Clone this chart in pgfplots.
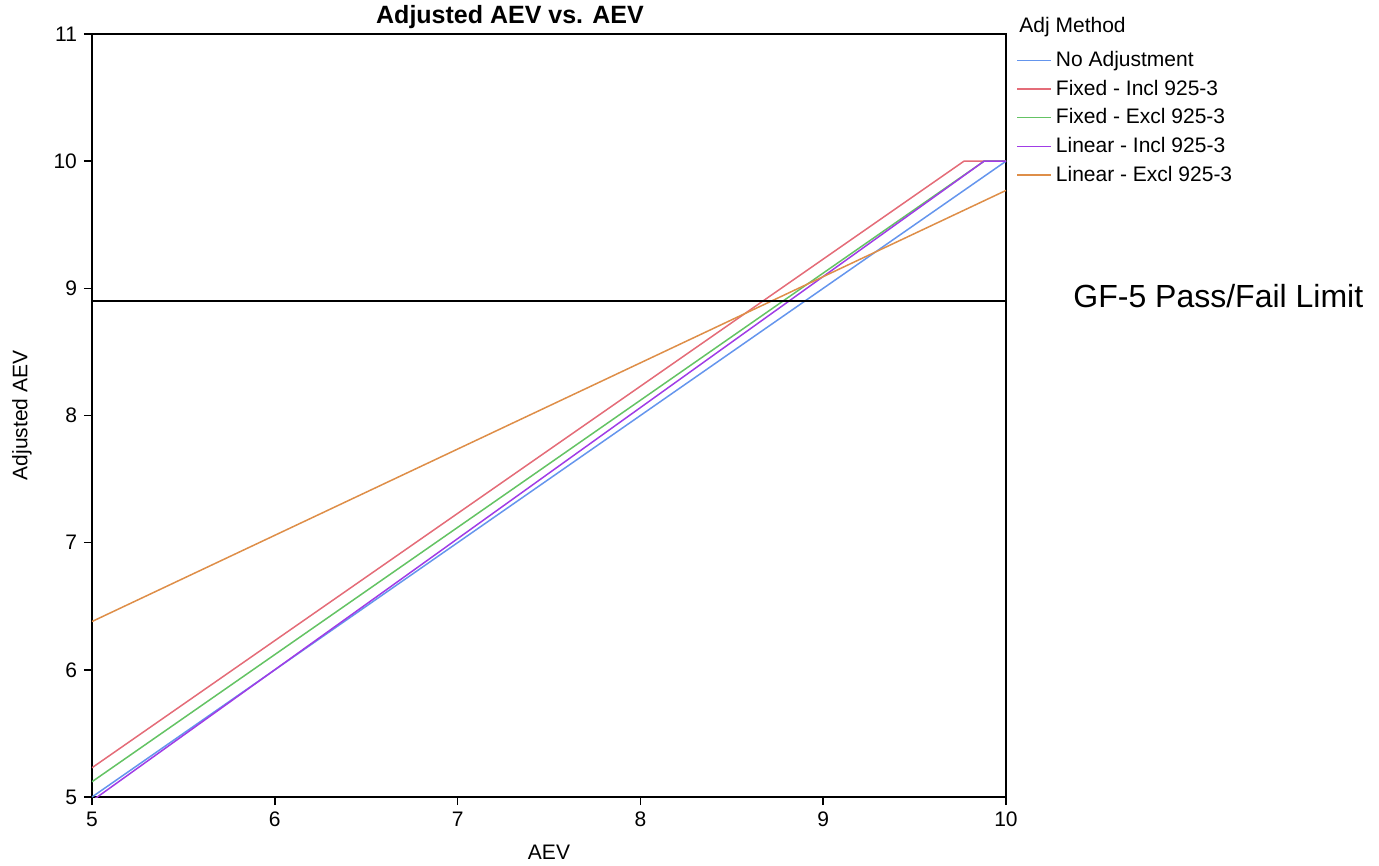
\documentclass[border=0pt]{standalone}
\usepackage{pgfplots}
\pgfplotsset{compat=1.18}
\usepackage{fontspec}
\setmainfont{Liberation Sans}

\definecolor{cBlue}{RGB}{100,149,237}
\definecolor{cRed}{RGB}{228,108,120}
\definecolor{cGreen}{RGB}{100,195,100}
\definecolor{cPurple}{RGB}{160,60,230}
\definecolor{cOrange}{RGB}{222,142,72}

\begin{document}
\begin{tikzpicture}
\begin{axis}[
    at={(0,0)}, anchor=south west,
    scale only axis,
    width=457pt,
    height=381.5pt,
    xmin=5, xmax=10,
    ymin=5, ymax=11,
    xtick={5,6,7,8,9,10},
    ytick={5,6,7,8,9,10,11},
    tick align=outside,
    major tick length=4pt,
    tick pos=left,
    tick style={black, line width=0.8pt},
    tick label style={font=\fontsize{10.5}{12}\selectfont},
    /pgf/number format/assume math mode=true,
    axis line style={line width=0.8pt},
    xlabel={AEV},
    ylabel={Adjusted AEV},
    label style={font=\fontsize{10.5}{12}\selectfont},
    xlabel style={at={(axis description cs:0.5,0)}, anchor=center, yshift=-27.5pt},
    ylabel style={at={(axis description cs:0,0.5)}, anchor=center, yshift=35pt},
    legend style={draw=none, fill=none, at={(rel axis cs:1.011,0.983)}, anchor=north west,
        font=\fontsize{10.5}{12}\selectfont, row sep=1.2pt, inner sep=0pt},
    legend cell align=left,
    legend image code/.code={\draw[#1] (0pt,0pt) -- (17pt,0pt);},
    clip mode=individual,
]
\addplot[cBlue, line width=0.75pt] coordinates {(5,5) (10,10)};
\addlegendentry{No Adjustment}
\addplot[cRed, line width=0.75pt] coordinates {(5,5.23) (9.77,10) (10,10)};
\addlegendentry{Fixed - Incl 925-3}
\addplot[cGreen, line width=0.75pt] coordinates {(5,5.12) (9.88,10) (10,10)};
\addlegendentry{Fixed - Excl 925-3}
\addplot[cPurple, line width=0.75pt] coordinates {(5,4.97) (9.88,10) (10,10)};
\addlegendentry{Linear - Incl 925-3}
\addplot[cOrange, line width=0.75pt] coordinates {(5,6.38) (10,9.77)};
\addlegendentry{Linear - Excl 925-3}
% pass/fail limit
\addplot[black, line width=0.8pt, forget plot] coordinates {(5,8.9) (10,8.9)};
\end{axis}
\node[anchor=south, font=\bfseries\fontsize{12.5}{14}\selectfont, inner sep=0pt] at (209pt,384pt) {Adjusted AEV vs. AEV};
\node[anchor=west, font=\fontsize{16}{18}\selectfont, inner sep=0pt] at (490.5pt,250.5pt) {GF-5 Pass/Fail Limit};
\node[anchor=west, font=\fontsize{10.5}{12}\selectfont, inner sep=0pt] at (463.5pt,385pt) {Adj Method};
\path (-46pt,-33.5pt) rectangle (643.5pt,398.5pt);
\end{tikzpicture}
\end{document}
